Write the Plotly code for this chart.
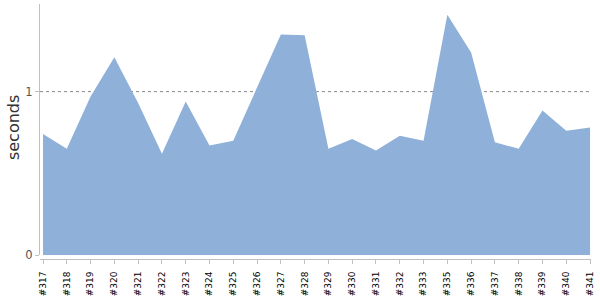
import plotly.graph_objects as go

categories = ["#317", "#318", "#319", "#320", "#321", "#322", "#323", "#324", "#325", "#326",
              "#327", "#328", "#329", "#330", "#331", "#332", "#333", "#335", "#336", "#337",
              "#338", "#339", "#340", "#341"]
seconds = [0.74, 0.65, 0.97, 1.21, 0.93, 0.62, 0.94, 0.67, 0.70, 1.03,
           1.35, 1.345, 0.65, 0.71, 0.64, 0.73, 0.70, 1.47, 1.24, 0.69,
           0.65, 0.885, 0.76, 0.78]

fill = "rgb(143,177,217)"

fig = go.Figure()
fig.add_trace(go.Scatter(
    x=categories, y=seconds, mode="lines", fill="tozeroy",
    line=dict(width=0, color=fill),
    fillcolor=fill, hoverinfo="skip", showlegend=False))

fig.add_shape(type="line", xref="x domain", yref="y", x0=0, x1=1, y0=1, y1=1,
              line=dict(color="#888888", width=1, dash="dot"), layer="below")

fig.add_annotation(text="seconds", xref="paper", yref="paper",
                   x=-27 / 551, y=0.5135, xanchor="center", yanchor="middle",
                   textangle=-90, showarrow=False,
                   font=dict(family="DejaVu Sans", size=16, color="#333"))

fig.update_layout(
    width=600, height=300,
    margin=dict(l=40, r=9, t=4, b=37),
    plot_bgcolor="white", paper_bgcolor="white",
    font=dict(family="DejaVu Sans", color="#444"),
    xaxis=dict(type="category", range=[-0.126, 23.04], showgrid=False,
               anchor="free", position=0,
               showline=True, linecolor="#c0c0c0", linewidth=1,
               ticks="outside", tickcolor="#c0c0c0", ticklen=4,
               ticklabelstandoff=4,
               tickangle=-90, tickfont=dict(size=9, color="black"),
               zeroline=False, fixedrange=True),
    yaxis=dict(range=[0, 1.536], domain=[0.0155, 1], tickvals=[0, 1], ticktext=["0", "1"],
               showgrid=False, zeroline=False, showline=True,
               linecolor="#c0c0c0", linewidth=1, ticks="outside",
               tickcolor="#c0c0c0", ticklen=4,
               tickfont=dict(size=11.5, color="#555")),
)

fig.write_html("out.html")
